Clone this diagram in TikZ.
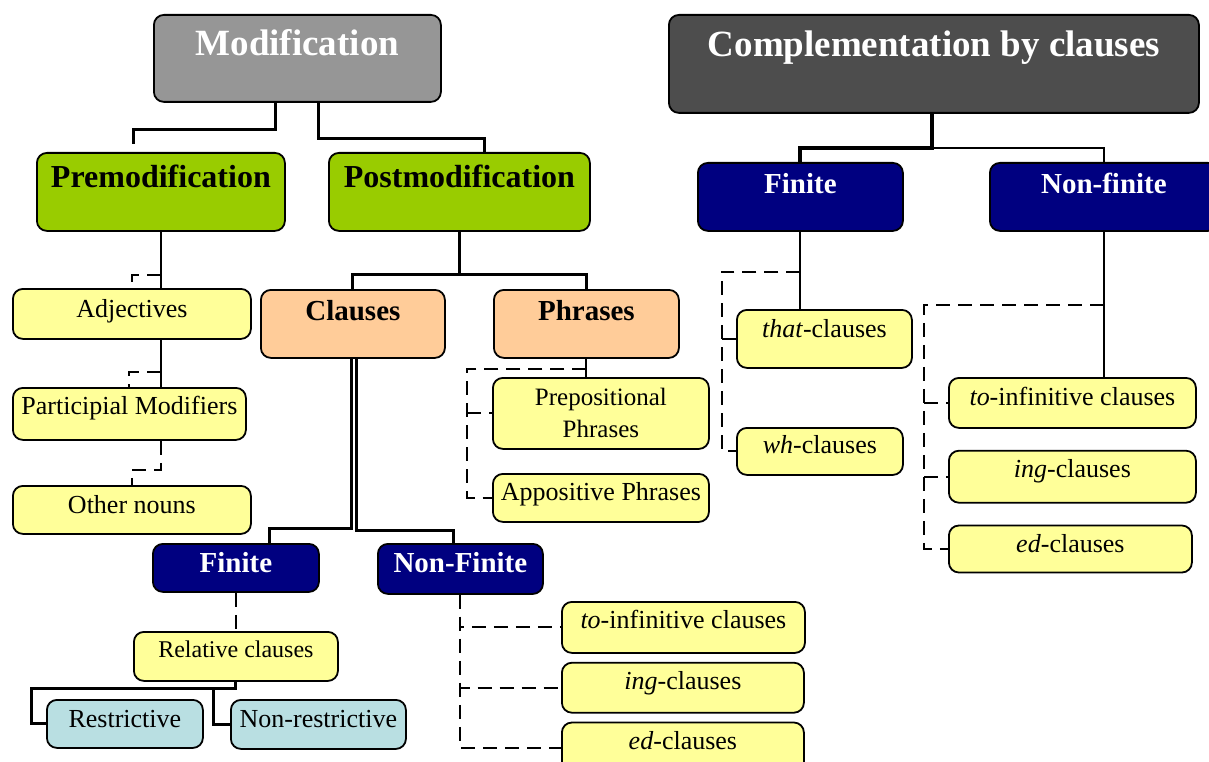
\documentclass[tikz,border=0pt]{standalone}
\usepackage{fontspec}
\setmainfont{Liberation Serif}
\usepackage{xcolor}
\usepackage{tikz}
\usetikzlibrary{positioning,calc}
\definecolor{modgray}{HTML}{969696}
\definecolor{compgray}{HTML}{4D4D4D}
\definecolor{leafgreen}{HTML}{99CC00}
\definecolor{peach}{HTML}{FFCC99}
\definecolor{navyblue}{HTML}{000080}
\definecolor{paleyellow}{HTML}{FFFF99}
\definecolor{paleteal}{HTML}{B9DFE2}
\tikzset{
  caja/.style={rectangle, draw=black, line width=1.8pt, rounded corners=10pt,
               inner sep=0pt, anchor=north west, align=center},
  titlebox/.style={caja, text=white, font=\fontsize{37}{40}\selectfont\bfseries},
  levelbox/.style={caja, fill=leafgreen, font=\fontsize{32}{36}\selectfont\bfseries},
  groupbox/.style={caja, fill=peach, font=\fontsize{29}{33}\selectfont\bfseries},
  navybox/.style={caja, fill=navyblue, text=white, font=\fontsize{29}{33}\selectfont\bfseries},
  itembox/.style={caja, fill=paleyellow, font=\fontsize{26}{30}\selectfont},
  tealbox/.style={caja, fill=paleteal, font=\fontsize{26}{30}\selectfont},
  link/.style={line width=3pt},
  thinlink/.style={line width=2pt},
  dashlink/.style={line width=2pt, dash pattern=on 14pt off 8pt}
}
\begin{document}
\begin{tikzpicture}[x=1pt, y=-1pt]
  \useasboundingbox (0,0) rectangle (1209,762);

  % Modification
  \node[titlebox, fill=modgray, minimum width=287pt, text height=41pt, text depth=46pt] (mod) at (153,14) {Modification};
  \node[levelbox, minimum width=248pt, text height=35pt, text depth=43pt] (premod) at (36,152) {Premodification};
  \node[levelbox, minimum width=261pt, text height=35pt, text depth=43pt] (postmod) at (328,152) {Postmodification};
  \draw[link] ([xshift=-22pt]mod.south) -- ++(0,27) -| ([xshift=-27pt,yshift=8pt]premod.north);
  \draw[link] ([xshift=21.5pt]mod.south) -- ++(0,36) -| ([xshift=25.5pt]postmod.north);

  % Premodification
  \node[itembox, minimum width=238pt, text height=29pt, text depth=21pt] (adj) at (12,288) {Adjectives};
  \node[itembox, minimum width=233pt, text height=27pt, text depth=25pt] (part) at (12,387) {Participial Modifiers};
  \node[itembox, minimum width=238pt, text height=28pt, text depth=20pt] (other) at (12,485) {Other nouns};
  \draw[thinlink] (premod.south) -- (premod.south |- adj.north);
  \draw[dashlink] ($(premod.south)+(0,43)$) -| (adj.north);
  \draw[thinlink] ([xshift=29pt]adj.south) -- ([xshift=29pt]adj.south |- part.north);
  \draw[dashlink] ($(adj.south)+(29,32)$) -| (part.north);
  \draw[dashlink] ([xshift=31.5pt]part.south) -- ++(0,29) -| (other.north);

  % Postmodification
  \node[groupbox, minimum width=184pt, text height=31pt, text depth=37pt] (clauses) at (260,289) {Clauses};
  \node[groupbox, minimum width=185pt, text height=31pt, text depth=37pt] (phrases) at (493,289) {Phrases};
  \draw[link] (postmod.south) -- ++(0,43);
  \draw[link] (clauses.north) |- ($(postmod.south)+(0,43)$) -| (phrases.north);

  \node[itembox, font=\fontsize{25}{32}\selectfont, minimum width=216pt, minimum height=71pt] (prep) at (492,377) {Prepositional\\Phrases};
  \node[itembox, minimum width=216pt, text height=27pt, text depth=21pt] (app) at (492,473) {Appositive Phrases};
  \draw[thinlink] (phrases.south) -- (phrases.south |- prep.north);
  \draw[dashlink] ($(phrases.south)+(0,10)$) -| ([xshift=-25pt]app.west) -- (app.west);
  \draw[dashlink] ([xshift=-25pt]prep.west) -- (prep.west);

  % Clauses
  \node[navybox, minimum width=166pt, text height=29pt, text depth=19pt] (finL) at (152,543) {Finite};
  \node[navybox, minimum width=165pt, text height=29pt, text depth=21pt] (nfinL) at (377,543) {Non-Finite};
  \draw[link] ([xshift=-1pt]clauses.south) -- ++(0,170) -| ([xshift=34pt]finL.north);
  \draw[link] ([xshift=4pt]clauses.south) -- ++(0,172) -| ([xshift=-6.5pt]nfinL.north);

  \node[itembox, font=\fontsize{24}{28}\selectfont, minimum width=204pt, text height=26pt, text depth=23pt] (rel) at (133,631) {Relative clauses};
  \node[tealbox, minimum width=156pt, text height=28pt, text depth=20pt] (restr) at (46,699) {Restrictive};
  \node[tealbox, minimum width=175pt, text height=28pt, text depth=21pt] (nonrestr) at (230,699) {Non-restrictive};
  \draw[dashlink] (finL.south) -- (rel.north);
  \draw[link] (rel.south) -- ++(0,7) -| ([xshift=-15pt]restr.west) -- (restr.west);
  \draw[link] (rel.south) ++(0,7) -| ([xshift=-17pt]nonrestr.west) -- (nonrestr.west);

  \node[itembox, minimum width=243pt, text height=27pt, text depth=24pt] (toL) at (561,601) {\textit{to}-infinitive clauses};
  \node[itembox, minimum width=242pt, text height=27pt, text depth=23pt, below=8pt of toL.south west, anchor=north west] (ingL) {\textit{ing}-clauses};
  \node[itembox, minimum width=242pt, text height=27pt, text depth=24pt, below=8pt of ingL.south west, anchor=north west] (edL) {\textit{ed}-clauses};
  \foreach \n in {toL,ingL,edL} \draw[dashlink] (nfinL.south) |- (\n.west);

  % Complementation by clauses
  \node[titlebox, fill=compgray, minimum width=530pt, text height=42pt, text depth=56pt] (comp) at (668,14) {Complementation by clauses};
  \node[navybox, minimum width=205pt, text height=31pt, text depth=37pt] (finR) at (697,162) {Finite};
  \node[navybox, minimum width=228pt, text height=31pt, text depth=37pt] (nfinR) at (989,162) {Non-finite};
  \draw[line width=4pt] ([xshift=-2pt]comp.south) -- ++(0,34) -| (finR.north);
  \draw[line width=2.5pt] ([xshift=-2pt]comp.south) ++(0,34) -| (nfinR.north);

  \node[itembox, minimum width=175pt, text height=28pt, text depth=30pt] (that) at (736,309) {\textit{that}-clauses};
  \node[itembox, minimum width=166pt, text height=26pt, text depth=21pt] (wh) at (736,427) {\textit{wh}-clauses};
  \draw[thinlink] (finR.south) -- (finR.south |- that.north);
  \draw[dashlink] ($(finR.south)+(0,40)$) -| ([xshift=-14pt]wh.west) -- (wh.west);
  \draw[dashlink] ([xshift=-14pt]that.west) -- (that.west);

  \node[itembox, minimum width=247pt, text height=28pt, text depth=22pt] (toR) at (948,377) {\textit{to}-infinitive clauses};
  \node[itembox, minimum width=247pt, text height=27pt, text depth=25pt, below=21pt of toR.south west, anchor=north west] (ingR) {\textit{ing}-clauses};
  \node[itembox, minimum width=243pt, text height=27pt, text depth=20pt, below=21pt of ingR.south west, anchor=north west] (edR) {\textit{ed}-clauses};
  \draw[thinlink] (nfinR.south) -- (nfinR.south |- toR.north);
  \draw[dashlink] ($(nfinR.south)+(0,73)$) -| ([xshift=-24pt]edR.west) -- (edR.west);
  \foreach \n in {toR,ingR} \draw[dashlink] ([xshift=-24pt]\n.west) -- (\n.west);
\end{tikzpicture}
\end{document}
